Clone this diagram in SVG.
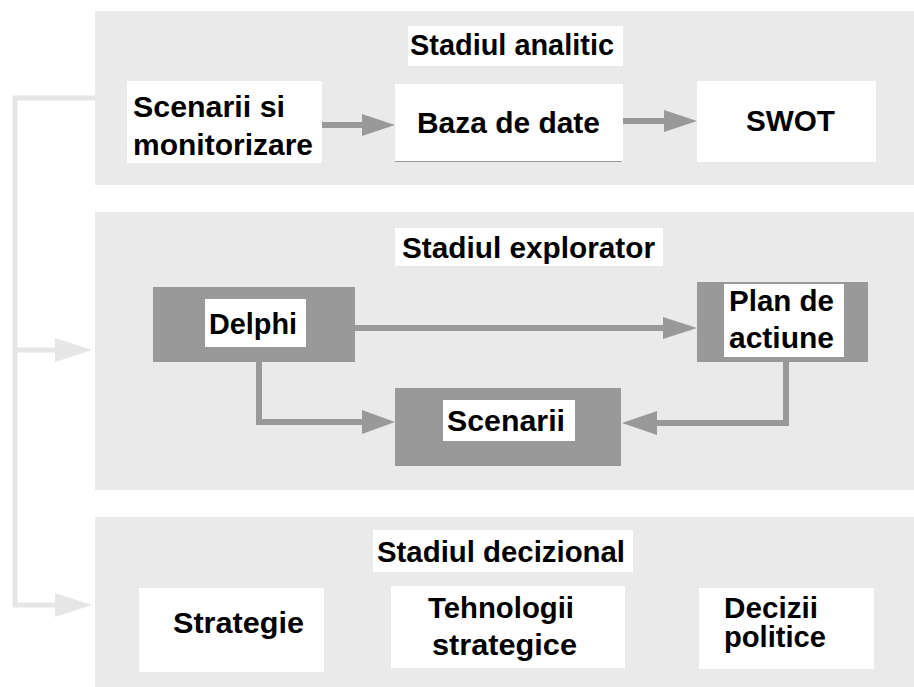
<svg xmlns="http://www.w3.org/2000/svg" width="914" height="687" viewBox="0 0 914 687">
<style>
.panel{fill:#eaeaea}
.wbox{fill:#ffffff}
.dbox{fill:#999999}
.t{font-family:"Liberation Sans",Arial,sans-serif;font-weight:bold;font-size:29px;fill:#000}
.c{fill:none;stroke:#999999;stroke-width:6}
.cl{fill:none;stroke:#e6e6e6;stroke-width:5}
.h{fill:#999999}
.hl{fill:#e6e6e6}
</style>
<rect width="914" height="687" fill="#ffffff"/>
<g id="panel-analitic">
<rect class="panel" x="95" y="11" width="819" height="174"/>
<rect class="wbox" x="408" y="26" width="215" height="40"/>
<text class="t" x="410" y="55" textLength="204" lengthAdjust="spacingAndGlyphs">Stadiul analitic</text>
</g>
<g id="panel-explorator">
<rect class="panel" x="95" y="212" width="819" height="278"/>
<rect class="wbox" x="395" y="228" width="268" height="38"/>
<text class="t" x="402" y="258" textLength="253" lengthAdjust="spacingAndGlyphs">Stadiul explorator</text>
</g>
<g id="panel-decizional">
<rect class="panel" x="95" y="517" width="819" height="170"/>
<rect class="wbox" x="373" y="530" width="260" height="42"/>
<text class="t" x="377" y="562" textLength="248" lengthAdjust="spacingAndGlyphs">Stadiul decizional</text>
</g>
<g id="connectors">
<polyline class="cl" points="95,98 15,98 15,605 60,605"/>
<line class="cl" x1="15" y1="350" x2="60" y2="350"/>
<polygon class="hl" points="55,338 92,350 55,362"/>
<polygon class="hl" points="55,593 92,605 55,617"/>
<line class="c" x1="322" y1="125" x2="365" y2="125"/>
<polygon class="h" points="362,114 395,125 362,136"/>
<line class="c" x1="623" y1="121" x2="666" y2="121"/>
<polygon class="h" points="664,110 697,121 664,132"/>
<line class="c" x1="355" y1="328" x2="666" y2="328"/>
<polygon class="h" points="663,317 697,328 663,339"/>
<polyline class="c" points="259,362 259,422 365,422"/>
<polygon class="h" points="362,410 395,422 362,434"/>
<polyline class="c" points="786,362 786,423 654,423"/>
<polygon class="h" points="657,411 622,423 657,435"/>
</g>
<g id="node-scenarii-monitorizare">
<rect class="wbox" x="127" y="81" width="195" height="82"/>
<text class="t" x="133" y="117" textLength="152" lengthAdjust="spacingAndGlyphs">Scenarii si</text>
<text class="t" x="133" y="155" textLength="180" lengthAdjust="spacingAndGlyphs">monitorizare</text>
</g>
<g id="node-baza-de-date">
<rect class="wbox" x="395" y="84" width="228" height="78"/>
<line x1="395" y1="161.5" x2="622" y2="161.5" stroke="#9a9a9a" stroke-width="1"/>
<text class="t" x="417" y="133" textLength="183" lengthAdjust="spacingAndGlyphs">Baza de date</text>
</g>
<g id="node-swot">
<rect class="wbox" x="697" y="81" width="179" height="81"/>
<text class="t" x="746" y="131" textLength="89" lengthAdjust="spacingAndGlyphs">SWOT</text>
</g>
<g id="node-delphi">
<rect class="dbox" x="153" y="287" width="202" height="75"/>
<rect class="wbox" x="205" y="299" width="101" height="48"/>
<text class="t" x="209" y="334" textLength="88" lengthAdjust="spacingAndGlyphs">Delphi</text>
</g>
<g id="node-plan-de-actiune">
<rect class="dbox" x="697" y="282" width="171" height="80"/>
<rect class="wbox" x="724" y="284" width="120" height="73"/>
<text class="t" x="729" y="311" textLength="105" lengthAdjust="spacingAndGlyphs">Plan de</text>
<text class="t" x="729" y="348" textLength="105" lengthAdjust="spacingAndGlyphs">actiune</text>
</g>
<g id="node-scenarii">
<rect class="dbox" x="395" y="388" width="226" height="78"/>
<rect class="wbox" x="443" y="400" width="132" height="41"/>
<text class="t" x="447" y="431" textLength="118" lengthAdjust="spacingAndGlyphs">Scenarii</text>
</g>
<g id="node-strategie">
<rect class="wbox" x="139" y="588" width="185" height="84"/>
<text class="t" x="173" y="633" textLength="131" lengthAdjust="spacingAndGlyphs">Strategie</text>
</g>
<g id="node-tehnologii-strategice">
<rect class="wbox" x="391" y="586" width="234" height="82"/>
<text class="t" x="428" y="618" textLength="146" lengthAdjust="spacingAndGlyphs">Tehnologii</text>
<text class="t" x="432" y="655" textLength="145" lengthAdjust="spacingAndGlyphs">strategice</text>
</g>
<g id="node-decizii-politice">
<rect class="wbox" x="699" y="588" width="175" height="81"/>
<text class="t" x="724" y="618" textLength="94" lengthAdjust="spacingAndGlyphs">Decizii</text>
<text class="t" x="724" y="647" textLength="102" lengthAdjust="spacingAndGlyphs">politice</text>
</g>
</svg>
